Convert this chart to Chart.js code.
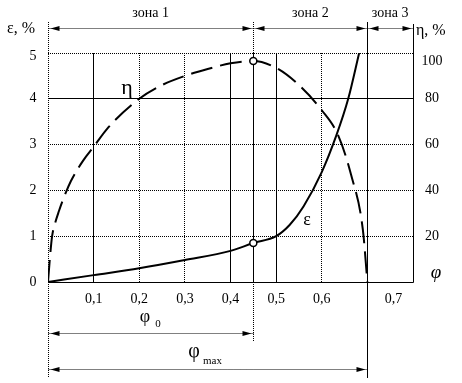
<!DOCTYPE html>
<html>
<head>
<meta charset="utf-8">
<script src="https://cdn.jsdelivr.net/npm/chart.js@4.4.1/dist/chart.umd.min.js"></script>
<style>
    html, body { margin: 0; padding: 0; background: #fff; }
    #wrap { width: 462px; height: 383px; }
</style>
</head>
<body>
<div id="wrap"><canvas id="chart" width="462" height="383"></canvas></div>
<script>
(function () {
    'use strict';

    // ε(φ), %
    const phiEps = [0, 0.1, 0.2, 0.3, 0.4, 0.45, 0.5, 0.53, 0.56, 0.6, 0.632, 0.658, 0.682];
    const epsValues = [0, 0.15, 0.3, 0.48, 0.68, 0.85, 1.0, 1.25, 1.65, 2.4, 3.2, 4.0, 5.0];

    // η(φ), %
    const phiEta = [0, 0.004, 0.009, 0.016, 0.024, 0.033, 0.05, 0.077, 0.1, 0.13, 0.2, 0.25, 0.3, 0.35, 0.4, 0.45, 0.5, 0.55, 0.6, 0.636, 0.664, 0.69, 0.7];
    const etaValues = [0, 10, 20, 26, 31, 36, 44, 53, 59, 67, 80, 86, 90, 93, 95.5, 96.5, 93.5, 86, 75, 64, 47, 23, 0];

    // working point and limits
    const phi0 = 0.45;
    const eps0 = 0.85;
    const eta0 = 96.5;
    const phiMax = 0.7;
    const phiEnd = 0.8;

    const xTicks = [0.1, 0.2, 0.3, 0.4, 0.5, 0.6, 0.7];
    const xTickLabels = ['0,1', '0,2', '0,3', '0,4', '0,5', '0,6', '0,7'];
    const epsTicks = [0, 1, 2, 3, 4, 5];
    const etaTicks = [20, 40, 60, 80, 100];

    const xGridSolid = [0.1, 0.4, 0.5, 0.7];
    const xGridDotted = [0.2, 0.3, 0.45, 0.6];
    const yGridSolid = [0, 4];
    const yGridDotted = [1, 2, 3, 5];

    const zoneLabels = ['зона 1', 'зона 2', 'зона 3'];
    const zoneBounds = [0, phi0, phiMax, phiEnd];

    const SERIF = "'Liberation Serif', 'DejaVu Serif', serif";

    function fixedTicks(values) {
        return function (scale) {
            scale.ticks = values.map((v) => ({ value: v }));
        };
    }

    function points(xs, ys) {
        return xs.map((x, i) => ({ x: x, y: ys[i] }));
    }

    function gridScale(extra) {
        return Object.assign({
            type: 'linear',
            ticks: { display: false },
            grid: { color: '#000', lineWidth: 1, drawTicks: false },
            border: { display: false },
        }, extra);
    }

    function arrowHead(ctx, x, y, dir) {
        ctx.beginPath();
        ctx.moveTo(x, y);
        ctx.lineTo(x - dir * 9, y - 2.5);
        ctx.lineTo(x - dir * 9, y + 2.5);
        ctx.closePath();
        ctx.fill();
    }

    function line(ctx, x1, y1, x2, y2, dash) {
        ctx.save();
        ctx.setLineDash(dash || []);
        ctx.beginPath();
        ctx.moveTo(x1, y1);
        ctx.lineTo(x2, y2);
        ctx.stroke();
        ctx.restore();
    }

    function text(ctx, str, x, y, size, align, italic) {
        ctx.font = (italic ? 'italic ' : '') + size + 'px ' + SERIF;
        ctx.textAlign = align || 'center';
        ctx.textBaseline = 'middle';
        ctx.fillText(str, x, y);
    }

    const decorPlugin = {
        id: 'decor',
        beforeDatasetsDraw(chart) {
            const ctx = chart.ctx;
            const xs = chart.scales.x;
            const ys = chart.scales.y;
            const px = (v) => Math.round(xs.getPixelForValue(v)) + 0.5;
            const py = (v) => Math.round(ys.getPixelForValue(v)) + 0.5;

            ctx.save();
            ctx.strokeStyle = '#000';
            ctx.fillStyle = '#000';
            ctx.lineWidth = 1;

            const x0 = px(0), xP0 = px(phi0), xPm = px(phiMax), xE = px(phiEnd);
            const yTop = 22, yZone = 28.5, yPhi0 = 333.5, yPhiMax = 369.5;

            // vertical extensions
            line(ctx, x0, yTop, x0, 378, [1, 1]);
            line(ctx, xP0, yTop, xP0, 342, [1, 1]);
            line(ctx, xPm, yTop, xPm, 378);
            line(ctx, xE, 24, xE, py(0));
            line(ctx, x0, py(0), xE, py(0));

            // zone arrows
            line(ctx, x0, yZone, xE, yZone, [1, 1]);
            for (let i = 0; i < zoneLabels.length; i++) {
                arrowHead(ctx, px(zoneBounds[i]) + 2, yZone, -1);
                arrowHead(ctx, px(zoneBounds[i + 1]) - 2, yZone, 1);
            }

            // φ0 and φmax dimension lines
            line(ctx, x0, yPhi0, xP0, yPhi0, [1, 1]);
            arrowHead(ctx, x0 + 2, yPhi0, -1);
            arrowHead(ctx, xP0 - 2, yPhi0, 1);
            line(ctx, x0, yPhiMax, xPm, yPhiMax, [1, 1]);
            arrowHead(ctx, x0 + 2, yPhiMax, -1);
            arrowHead(ctx, xPm - 2, yPhiMax, 1);

            ctx.restore();
        },
        afterDraw(chart) {
            const ctx = chart.ctx;
            const xs = chart.scales.x;
            const ys = chart.scales.y;
            const es = chart.scales.eta;

            ctx.save();
            ctx.fillStyle = '#000';

            for (let i = 0; i < zoneLabels.length; i++) {
                const a = xs.getPixelForValue(zoneBounds[i]);
                const b = xs.getPixelForValue(zoneBounds[i + 1]);
                text(ctx, zoneLabels[i], (a + b) / 2, 13, 14);
            }

            text(ctx, 'φ', 145, 317, 18);
            text(ctx, '0', 158, 324, 11);
            text(ctx, 'φ', 194, 352, 20);
            text(ctx, 'max', 203, 361, 11, 'left');

            // axis labels
            xTicks.forEach((v, i) => {
                const shift = v === phiMax ? 26 : 0;
                text(ctx, xTickLabels[i], xs.getPixelForValue(v) + shift, 299, 14);
            });
            epsTicks.forEach((v) => {
                const shift = v === 5 ? 3 : 0;
                text(ctx, String(v), 33, ys.getPixelForValue(v) + shift, 14);
            });
            etaTicks.forEach((v) => {
                const shift = v === 100 ? 8 : 0;
                text(ctx, String(v), 432, es.getPixelForValue(v) + shift, 14);
            });

            text(ctx, 'ε, %', 7, 29, 16, 'left');
            text(ctx, 'η, %', 416, 31, 16, 'left');
            text(ctx, 'φ', 436, 273, 19, 'center', true);

            // curve labels
            text(ctx, 'η', 127, 88, 22);
            text(ctx, 'ε', 307, 220, 18);

            ctx.restore();
        },
    };

    const marker = {
        xAxisID: 'x',
        showLine: false,
        pointRadius: 3.5,
        pointBorderWidth: 1.5,
        pointBorderColor: '#000',
        pointBackgroundColor: '#fff',
    };

    new Chart(document.getElementById('chart'), {
        type: 'line',
        data: {
            // markers first so they are drawn over the curves
            datasets: [
                Object.assign({ label: 'ε0', data: [{ x: phi0, y: eps0 }], yAxisID: 'y' }, marker),
                Object.assign({ label: 'η0', data: [{ x: phi0, y: eta0 }], yAxisID: 'eta' }, marker),
                {
                    label: 'ε',
                    data: points(phiEps, epsValues),
                    xAxisID: 'x',
                    yAxisID: 'y',
                    borderColor: '#000',
                    borderWidth: 2,
                    pointRadius: 0,
                    cubicInterpolationMode: 'monotone',
                },
                {
                    label: 'η',
                    data: points(phiEta, etaValues),
                    xAxisID: 'x',
                    yAxisID: 'eta',
                    borderColor: '#000',
                    borderWidth: 2,
                    borderDash: [22, 8],
                    pointRadius: 0,
                    cubicInterpolationMode: 'monotone',
                },
            ],
        },
        options: {
            responsive: false,
            animation: false,
            layout: { padding: { left: 48, top: 53, right: 49, bottom: 101 } },
            plugins: {
                legend: { display: false },
                tooltip: { enabled: false },
            },
            scales: {
                x: gridScale({
                    position: 'bottom', min: 0, max: phiEnd,
                    afterBuildTicks: fixedTicks(xGridSolid),
                    afterFit: (s) => { s.height = 0; },
                }),
                xDot: gridScale({
                    position: 'bottom', min: 0, max: phiEnd,
                    afterBuildTicks: fixedTicks(xGridDotted),
                    afterFit: (s) => { s.height = 0; },
                    border: { display: false, dash: [1, 1] },
                }),
                y: gridScale({
                    position: 'left', min: 0, max: 5,
                    afterBuildTicks: fixedTicks(yGridSolid),
                    afterFit: (s) => { s.width = 0; },
                }),
                yDot: gridScale({
                    position: 'left', min: 0, max: 5,
                    afterBuildTicks: fixedTicks(yGridDotted),
                    afterFit: (s) => { s.width = 0; },
                    border: { display: false, dash: [1, 1] },
                }),
                eta: gridScale({
                    position: 'right', min: 0, max: 100,
                    grid: { display: false },
                    afterFit: (s) => { s.width = 0; },
                }),
            },
        },
        plugins: [decorPlugin],
    });
})();
</script>
</body>
</html>
